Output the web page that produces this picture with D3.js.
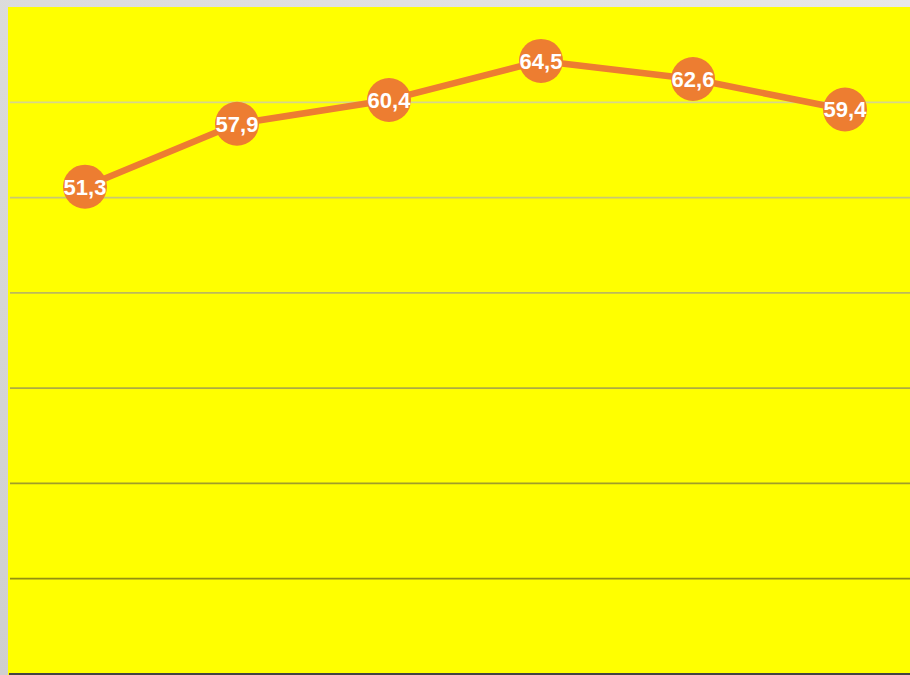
<!DOCTYPE html>
<html><head><meta charset="utf-8">
<script src="https://cdn.jsdelivr.net/npm/d3@7"></script>
<style>html,body{margin:0;padding:0;overflow:hidden;background:#fff}</style>
</head><body>
<script>
const categories = ["A","B","C","D","E","F"];
const values = [51.3, 57.9, 60.4, 64.5, 62.6, 59.4];
const labels = ["51,3","57,9","60,4","64,5","62,6","59,4"];
const gridTicks = [10, 20, 30, 40, 50, 60];

const W = 910, H = 675;
const svg = d3.select("body").append("svg").attr("width", W).attr("height", H);
const defs = svg.append("defs");
const bg = defs.append("linearGradient").attr("id","bg").attr("x1","100%").attr("y1","0%").attr("x2","0%").attr("y2","100%");
bg.append("stop").attr("offset","0%").attr("stop-color","#e8e8e8");
bg.append("stop").attr("offset","100%").attr("stop-color","#cfcfcf");
svg.append("rect").attr("width",W).attr("height",H).attr("fill","url(#bg)");

const mLeft = 8, mTop = 7, mBottom = 674;
svg.append("rect").attr("x",mLeft).attr("y",mTop).attr("width",W-mLeft).attr("height",H-mTop).attr("fill","#ffff00");

const x = d3.scaleBand().domain(categories).range([9, 921]);
const y = d3.scaleLinear().domain([0, 70]).range([mBottom, mTop]);

const gridColor = d3.scaleLinear().domain([60, 10]).range(["#d6d68c", "#949010"]);
svg.append("g").selectAll("line").data(gridTicks).join("line")
  .attr("x1", mLeft + 2).attr("x2", W)
  .attr("y1", d => y(d)).attr("y2", d => y(d))
  .attr("stroke", d => gridColor(d)).attr("stroke-width", 1.8);
svg.append("line").attr("x1", mLeft + 1).attr("x2", W).attr("y1", y(0)).attr("y2", y(0))
  .attr("stroke", "#444").attr("stroke-width", 2);

const cx = (d,i) => x(categories[i]) + x.bandwidth()/2;
const line = d3.line().x((d,i) => cx(d,i)).y(d => y(d) + 1.5);
svg.append("path").datum(values).attr("d", line).attr("fill","none")
  .attr("stroke","#ed7d31").attr("stroke-width",6.5).attr("stroke-linejoin","round");

svg.append("g").selectAll("circle").data(values).join("circle")
  .attr("cx", cx).attr("cy", d => y(d) + 1.5).attr("r", 22).attr("fill", "#ed7d31");

svg.append("g").selectAll("text").data(values).join("text")
  .attr("x", cx).attr("y", d => y(d) + 1.5).attr("dy", "0.36em")
  .attr("text-anchor","middle").attr("fill","#fff")
  .attr("font-family","Liberation Sans, Arial, sans-serif").attr("font-weight","bold").attr("font-size", 22)
  .text((d,i) => labels[i]);
</script>
</body></html>
